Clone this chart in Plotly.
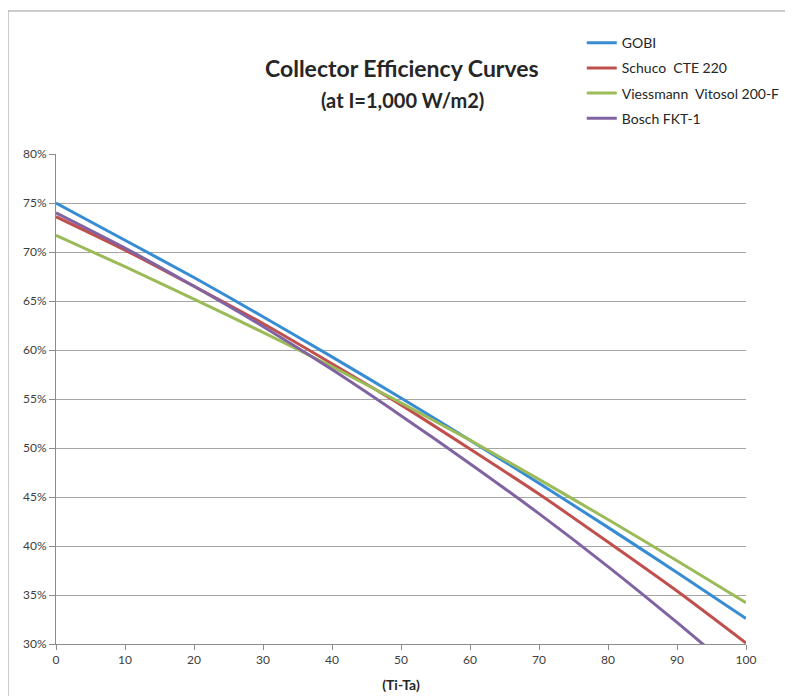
import plotly.graph_objects as go

x_vals = [0, 10, 20, 30, 40, 50, 60, 70, 80, 90, 100]
gobi = [0.750, 0.712, 0.674, 0.634, 0.593, 0.551, 0.508, 0.464, 0.419, 0.373, 0.326]
schuco = [0.736, 0.702, 0.665, 0.627, 0.586, 0.544, 0.499, 0.453, 0.404, 0.354, 0.301]
viessmann = [0.717, 0.685, 0.652, 0.618, 0.583, 0.546, 0.508, 0.468, 0.427, 0.385, 0.342]
bosch = [0.740, 0.704, 0.665, 0.624, 0.580, 0.533, 0.484, 0.433, 0.379, 0.322, 0.263]

names = ["GOBI", "Schuco  CTE 220", "Viessmann  Vitosol 200-F", "Bosch FKT-1"]
colors = ["#378CD3", "#C0504D", "#9BBB59", "#8064A2"]
series = [gobi, schuco, viessmann, bosch]

FONT = "Lato, Open Sans, sans-serif"

fig = go.Figure()
for i, (n, c, s) in enumerate(zip(names, colors, series)):
    fig.add_trace(go.Scatter(x=x_vals, y=s, name=n, mode="lines",
                             line=dict(color=c, width=3, shape="spline", smoothing=0.6),
                             legendgroup=str(i)))

fig.update_layout(
    width=793, height=696,
    margin=dict(l=48, r=55, t=146, b=60, autoexpand=False),
    paper_bgcolor="white", plot_bgcolor="white",
    font=dict(family=FONT, size=12, color="#404040"),
    showlegend=True,
    legend=dict(x=0.762, y=1.259, xanchor="left", yanchor="top",
                font=dict(family=FONT, size=14, color="#262626"),
                traceorder="grouped", tracegroupgap=4, bgcolor="rgba(0,0,0,0)"),
    annotations=[
        dict(text="<b>Collector Efficiency Curves</b>", x=0.502, y=1.176, xref="paper", yref="paper",
             showarrow=False, xanchor="center", yanchor="middle",
             font=dict(family=FONT, size=23, color="#262626")),
        dict(text="<b>(at I=1,000 W/m2)</b>", x=0.502, y=1.11, xref="paper", yref="paper",
             showarrow=False, xanchor="center", yanchor="middle",
             font=dict(family=FONT, size=20, color="#262626")),
    ],
    shapes=[dict(type="rect", xref="paper", yref="paper",
                 x0=(0 - 48) / 690, x1=(810 - 48) / 690,
                 y0=(636 - 710) / 490, y1=(636 - 3) / 490,
                 line=dict(color="#9A9A9A", width=1), fillcolor="rgba(0,0,0,0)", layer="below")],
)

fig.update_xaxes(range=[0, 100], tickvals=x_vals, showgrid=False, showline=True,
                 linecolor="#8C8C8C", linewidth=1, ticks="outside", ticklen=5, tickcolor="#8C8C8C",
                 tickfont=dict(family=FONT, size=12, color="#404040"), zeroline=False,
                 title=dict(text="<b>(Ti-Ta)</b>", font=dict(family=FONT, size=14, color="#262626"), standoff=13))
fig.update_yaxes(range=[0.30, 0.80], dtick=0.05, tick0=0.30, tickformat=".0%", showgrid=True,
                 gridcolor="#A6A6A6", gridwidth=1, showline=True, linecolor="#8C8C8C", linewidth=1,
                 ticks="outside", ticklen=6, tickcolor="#8C8C8C", zeroline=False,
                 tickfont=dict(family=FONT, size=12, color="#404040"))

fig.write_html("out.html")
